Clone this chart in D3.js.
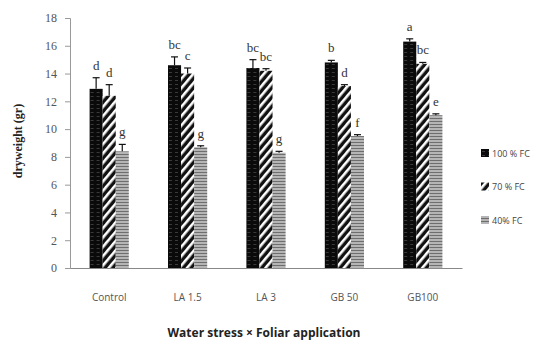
<!DOCTYPE html>
<html>
<head>
<meta charset="utf-8">
<script src="https://cdn.jsdelivr.net/npm/d3@7"></script>
<style>
body { margin: 0; background: #fff; }
svg { display: block; }
</style>
</head>
<body>
<div id="chart"></div>
<script>
var categories = ["Control", "LA 1.5", "LA 3", "GB 50", "GB100"];
var seriesNames = ["100 % FC", "70 % FC", "40% FC"];
var fc100 = [12.9, 14.6, 14.4, 14.8, 16.3];
var fc70 = [12.4, 14.0, 14.2, 13.1, 14.7];
var fc40 = [8.4, 8.7, 8.3, 9.5, 11.0];
var err100 = [0.8, 0.6, 0.6, 0.15, 0.2];
var err70 = [0.8, 0.4, 0.15, 0.1, 0.1];
var err40 = [0.5, 0.1, 0.1, 0.1, 0.1];
var letters100 = ["d", "bc", "bc", "b", "a"];
var letters70 = ["d", "c", "bc", "d", "bc"];
var letters40 = ["g", "g", "g", "f", "e"];
var yTicks = [0, 2, 4, 6, 8, 10, 12, 14, 16, 18];

var width = 552, height = 345;
var margin = {top: 18, right: 90, bottom: 77, left: 70};

var svg = d3.select("#chart")
    .append("svg")
    .attr("width", width)
    .attr("height", height);

// fill patterns
var defs = svg.append("defs");
var p1 = defs.append("pattern").attr("id", "pBlack")
    .attr("patternUnits", "userSpaceOnUse").attr("width", 6).attr("height", 4);
p1.append("rect").attr("width", 6).attr("height", 4).attr("fill", "#0a0a0a");
p1.append("rect").attr("x", 1).attr("y", 2).attr("width", 3).attr("height", 1).attr("fill", "#3a3a3a");

var p2 = defs.append("pattern").attr("id", "pHatch")
    .attr("patternUnits", "userSpaceOnUse").attr("width", 6).attr("height", 6)
    .attr("patternTransform", "rotate(40)");
p2.append("rect").attr("width", 6).attr("height", 6).attr("fill", "#111");
p2.append("rect").attr("x", 0).attr("width", 2.6).attr("height", 6).attr("fill", "#fff");

var p3 = defs.append("pattern").attr("id", "pGray")
    .attr("patternUnits", "userSpaceOnUse").attr("width", 4).attr("height", 3);
p3.append("rect").attr("width", 4).attr("height", 3).attr("fill", "#b5b5b5");
p3.append("rect").attr("y", 1).attr("width", 4).attr("height", 1).attr("fill", "#6e6e6e");

var fills = ["url(#pBlack)", "url(#pHatch)", "url(#pGray)"];

var g = svg.append("g")
    .attr("transform", "translate(" + margin.left + "," + margin.top + ")");
var w = width - margin.left - margin.right;
var h = height - margin.top - margin.bottom;

var x = d3.scaleBand().domain(categories).range([0, w]).paddingInner(0.5).paddingOuter(0.25);
var xs = d3.scaleBand().domain([0, 1, 2]).range([0, x.bandwidth()]);
var y = d3.scaleLinear().domain([0, 18]).range([h, 0]);

var data = categories.map(function(c, i) {
    return {
        cat: c,
        vals: [
            {s: 0, v: fc100[i], e: err100[i], l: letters100[i]},
            {s: 1, v: fc70[i], e: err70[i], l: letters70[i]},
            {s: 2, v: fc40[i], e: err40[i], l: letters40[i]}
        ]
    };
});

// axes
var yAxis = g.append("g")
    .call(d3.axisLeft(y).tickValues(yTicks).tickSize(5).tickPadding(8));
yAxis.select(".domain").attr("stroke", "#999");
yAxis.selectAll(".tick line").attr("stroke", "#999");
yAxis.selectAll("text")
    .attr("font-family", "Liberation Serif, serif")
    .attr("font-size", 12)
    .attr("fill", "#555");

var xAxis = g.append("g")
    .attr("transform", "translate(0," + h + ")")
    .call(d3.axisBottom(x).tickSize(0).tickPadding(26));
xAxis.select(".domain").attr("stroke", "#888");
xAxis.selectAll("text")
    .attr("font-family", "Open Sans, sans-serif")
    .attr("font-size", 10)
    .attr("fill", "#555");

var groups = g.selectAll(".grp")
    .data(data).enter()
    .append("g")
    .attr("transform", function(d) { return "translate(" + x(d.cat) + ",0)"; });

groups.selectAll("rect")
    .data(function(d) { return d.vals; }).enter()
    .append("rect")
    .attr("x", function(d) { return xs(d.s); })
    .attr("y", function(d) { return y(d.v); })
    .attr("width", xs.bandwidth())
    .attr("height", function(d) { return h - y(d.v); })
    .attr("fill", function(d) { return fills[d.s]; });

// error bars
var eb = groups.selectAll(".eb")
    .data(function(d) { return d.vals; }).enter()
    .append("g")
    .attr("stroke", "#111")
    .attr("stroke-width", 1.2);
eb.append("line")
    .attr("x1", function(d) { return xs(d.s) + xs.bandwidth() / 2; })
    .attr("x2", function(d) { return xs(d.s) + xs.bandwidth() / 2; })
    .attr("y1", function(d) { return y(d.v); })
    .attr("y2", function(d) { return y(d.v + d.e); });
eb.append("line")
    .attr("x1", function(d) { return xs(d.s) + xs.bandwidth() / 2 - 3.5; })
    .attr("x2", function(d) { return xs(d.s) + xs.bandwidth() / 2 + 3.5; })
    .attr("y1", function(d) { return y(d.v + d.e); })
    .attr("y2", function(d) { return y(d.v + d.e); });

// letters
groups.selectAll(".lt")
    .data(function(d) { return d.vals; }).enter()
    .append("text")
    .attr("x", function(d) { return xs(d.s) + xs.bandwidth() / 2; })
    .attr("y", function(d) { return y(d.v + d.e) - 8; })
    .attr("text-anchor", "middle")
    .attr("font-family", "Liberation Serif, serif")
    .attr("font-size", 13)
    .attr("fill", "#333")
    .text(function(d) { return d.l; });

// axis titles
svg.append("text")
    .attr("transform", "translate(22," + (margin.top + h / 2 - 2) + ") rotate(-90)")
    .attr("text-anchor", "middle")
    .attr("font-family", "Liberation Serif, serif")
    .attr("font-weight", "bold")
    .attr("font-size", 12)
    .attr("fill", "#222")
    .text("dryweight (gr)");

svg.append("text")
    .attr("x", margin.left + w / 2 - 2)
    .attr("y", 337)
    .attr("text-anchor", "middle")
    .attr("font-family", "Open Sans, sans-serif")
    .attr("font-weight", "bold")
    .attr("font-size", 12)
    .attr("fill", "#222")
    .text("Water stress \u00d7 Foliar application");

// legend
var legend = svg.append("g").attr("transform", "translate(481,153)");
var li = legend.selectAll("g")
    .data(seriesNames).enter()
    .append("g")
    .attr("transform", function(d, i) { return "translate(0," + (i * 33.5) + ")"; });
li.append("rect")
    .attr("x", 0).attr("y", -4)
    .attr("width", 8).attr("height", 8)
    .attr("fill", function(d, i) { return fills[i]; });
li.append("text")
    .attr("x", 11)
    .attr("y", 3.5)
    .attr("font-family", "Open Sans, sans-serif")
    .attr("font-size", 9)
    .attr("fill", "#444")
    .text(function(d) { return d; });
</script>
</body>
</html>
